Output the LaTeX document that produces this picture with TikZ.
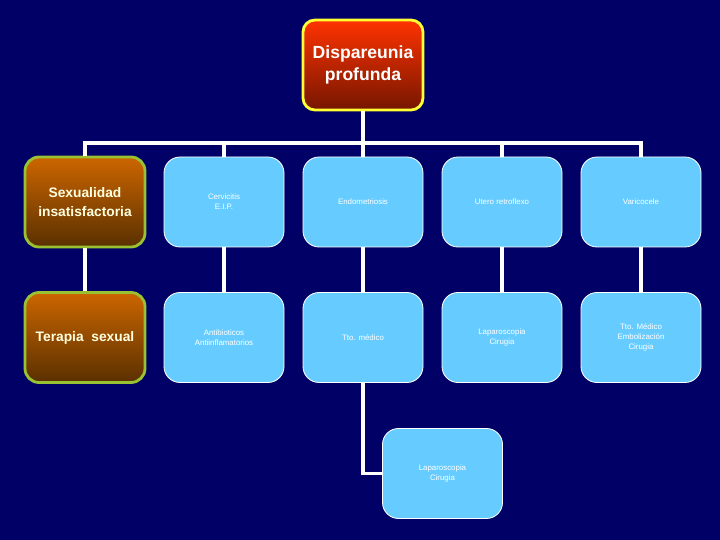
\documentclass[tikz,border=0pt]{standalone}
\usepackage{fontspec}
\setmainfont{Liberation Sans}
\usepackage{xcolor}
\usetikzlibrary{calc}
\definecolor{slidenavy}{HTML}{000066}
\definecolor{rootred}{HTML}{FF3300}
\definecolor{rootdark}{HTML}{761600}
\definecolor{rootedge}{HTML}{FFFF33}
\definecolor{sexorange}{HTML}{CC6600}
\definecolor{sexbrown}{HTML}{5A3000}
\definecolor{sexedge}{HTML}{99C233}
\definecolor{sextext}{HTML}{FFFFE0}
\definecolor{causeblue}{HTML}{66CCFF}

\begin{document}
\begin{tikzpicture}[
  rootbox/.style={rectangle,rounded corners=0.3cm,minimum width=3cm,minimum height=2.25cm,inner sep=0pt,
    top color=rootred,bottom color=rootdark,draw=rootedge,line width=2pt,text=white,align=center,
    font=\fontsize{12.5}{16}\selectfont\bfseries},
  sexbox/.style={rectangle,rounded corners=0.35cm,minimum width=3cm,minimum height=2.25cm,inner sep=0pt,
    top color=sexorange,bottom color=sexbrown,draw=sexedge,line width=2pt,text=sextext,align=center,
    font=\fontsize{9.8}{13}\selectfont\bfseries},
  causebox/.style={rectangle,rounded corners=0.4cm,minimum width=3cm,minimum height=2.25cm,inner sep=0pt,
    fill=causeblue,draw=white,line width=0.6pt,text=white,align=center,
    font=\fontsize{5.6}{7}\selectfont},
  link/.style={draw=white,line width=2.2pt}
]
  \fill[slidenavy] (0,0) rectangle (18,13.5);
  \useasboundingbox (0,0) rectangle (18,13.5);
  % top
  \node[rootbox] (disp) at (9.075,11.875) {Dispareunia\\profunda};
  % causes
  \node[sexbox] (sexu) at (2.125,8.45) {Sexualidad\\insatisfactoria};
  \node[causebox] (cerv) at (5.6,8.45) {Cervicitis\\E.I.P.};
  \node[causebox] (endo) at (9.075,8.45) {Endometriosis};
  \node[causebox] (utero) at (12.55,8.45) {Utero retroflexo};
  \node[causebox] (vari) at (16.025,8.45) {Varicocele};
  % treatments
  \node[sexbox] (terap) at (2.125,5.0625) {Terapia\ \ sexual};
  \node[causebox] (antib) at (5.6,5.0625) {Antibioticos\\Antiinflamatorios};
  \node[causebox] (ttomed) at (9.075,5.0625) {Tto. médico};
  \node[causebox] (lapa) at (12.55,5.0625) {Laparoscopia\\Cirugia};
  \node[causebox] (embo) at (16.025,5.0625) {Tto. Médico\\Embolización\\Cirugia};
  \node[causebox] (lapb) at (11.0625,1.6625) {Laparoscopia\\Cirugia};
  % connectors
  \coordinate (bar) at (9.075,9.925);
  \draw[link] (disp.south) -- (bar);
  \draw[link] (sexu.north) |- (vari.north |- bar) -- (vari.north);
  \foreach \n in {cerv,endo,utero}{
    \draw[link] (\n.north |- bar) -- (\n.north);
  }
  \draw[link] (sexu) -- (terap);
  \draw[link] (cerv) -- (antib);
  \draw[link] (endo) -- (ttomed);
  \draw[link] (utero) -- (lapa);
  \draw[link] (vari) -- (embo);
  \draw[link] (ttomed.south) |- (lapb.west);
\end{tikzpicture}
\end{document}
